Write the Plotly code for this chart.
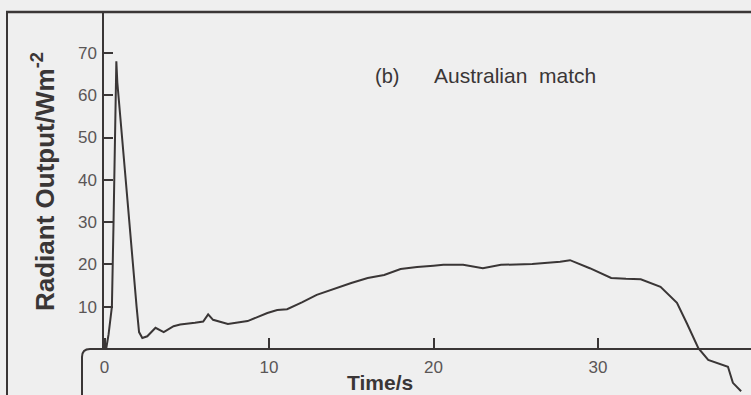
import plotly.graph_objects as go

# ---- data ----
time_s = [0, 0.1, 0.25, 0.45, 0.55, 0.65, 0.72, 0.78, 0.85, 1.4, 1.95, 2.1, 2.3,
          2.6, 3.1, 3.6, 4.2, 4.6, 5.5, 6.0, 6.3, 6.6, 7.5, 8.7, 9.9, 10.5, 11.1,
          12.0, 12.9, 14.0, 15.0, 16.0, 17.0, 18.0, 19.0, 20.0, 20.6, 21.8, 23.0,
          24.1, 26.0, 27.7, 28.3, 29.5, 30.8, 31.7, 32.6, 33.8, 34.8, 35.4, 36.1,
          36.7, 37.3, 37.9, 38.2, 38.7]
radiant = [0, 0, 3.5, 10, 30, 52, 68, 63, 60, 35, 10, 4, 2.6,
           3, 5, 4, 5.4, 5.8, 6.2, 6.5, 8.2, 6.9, 5.9, 6.6, 8.5, 9.2, 9.4,
           11, 12.8, 14.3, 15.6, 16.8, 17.5, 18.9, 19.4, 19.7, 19.9, 19.9, 19.1,
           19.9, 20.1, 20.6, 21, 19.1, 16.8, 16.6, 16.5, 14.7, 10.9, 6.1, 0.2,
           -2.6, -3.4, -4.2, -8, -10]
x_ticks = [0, 10, 20, 30]
y_ticks = [10, 20, 30, 40, 50, 60, 70]

W, H = 751, 395
L, T = 103, 12
PW, PH = W - L, H - T


def px(x):
    return (x - L) / PW


def py(y):
    return (H - y) / PH


ink = "#3a3636"
label_grey = "#5a5656"
font_family = "Liberation Sans, Arial, sans-serif"

fig = go.Figure()
fig.add_trace(go.Scatter(x=time_s, y=radiant, mode="lines",
                         line=dict(color=ink, width=2), hoverinfo="skip"))

x0_axis = py(349)
shapes = [
    dict(type="line", xref="paper", yref="paper", x0=0, x1=0, y0=x0_axis, y1=1,
         line=dict(color=ink, width=2)),
    dict(type="line", xref="paper", yref="paper", x0=px(6), x1=px(W), y0=py(12), y1=py(12),
         line=dict(color=ink, width=2.5)),
    dict(type="line", xref="paper", yref="paper", x0=px(7), x1=px(7), y0=py(12), y1=py(H),
         line=dict(color=ink, width=2)),
    dict(type="path", xref="paper", yref="paper",
         path=(f"M {px(W)},{py(349)} L {px(90)},{py(349)} "
               f"Q {px(82)},{py(349)} {px(82)},{py(357)} L {px(82)},{py(H)}"),
         line=dict(color=ink, width=2)),
]

annotations = [
    dict(text="(b)", x=px(387), y=py(76), xref="paper", yref="paper", showarrow=False,
         font=dict(family=font_family, size=20, color=ink), xanchor="center", yanchor="middle"),
    dict(text="Australian  match", x=px(432), y=py(76), xref="paper", yref="paper",
         showarrow=False, font=dict(family=font_family, size=21, color=ink),
         xanchor="left", yanchor="middle"),
    dict(text="<b>Time/s</b>", x=px(380), y=py(382), xref="paper", yref="paper",
         showarrow=False, font=dict(family=font_family, size=21, color=ink),
         xanchor="center", yanchor="middle"),
    dict(text="<b>Radiant Output/Wm<sup>-2</sup></b>", x=px(43), y=py(182), xref="paper",
         yref="paper", showarrow=False, textangle=-90,
         font=dict(family=font_family, size=26, color=ink),
         xanchor="center", yanchor="middle"),
]

fig.update_layout(
    width=W, height=H,
    margin=dict(l=L, r=0, t=T, b=0, pad=0),
    paper_bgcolor="#efefef", plot_bgcolor="#efefef",
    showlegend=False,
    shapes=shapes, annotations=annotations,
    xaxis=dict(range=[(103 - 104.5) / 16.45, (W - 104.5) / 16.45],
               anchor="free", position=x0_axis,
               showgrid=False, zeroline=False, showline=True, linecolor=ink, linewidth=2,
               ticks="inside", ticklen=10, tickwidth=1.5, tickcolor=ink,
               ticklabelstandoff=3,
               tickvals=x_ticks, ticktext=[str(v) for v in x_ticks],
               tickfont=dict(family=font_family, size=17, color=label_grey)),
    yaxis=dict(range=[(349 - 395) / 4.23, (349 - 12) / 4.23],
               showgrid=False, zeroline=False, showline=False,
               ticks="inside", ticklen=10, tickwidth=1.5, tickcolor=ink,
               ticklabelstandoff=5,
               tickvals=y_ticks, ticktext=[str(v) for v in y_ticks],
               tickfont=dict(family=font_family, size=17, color=label_grey)),
)

fig.write_html("out.html", config={"displayModeBar": False},
               post_script="document.body.style.margin='0';document.body.style.background='#efefef';")
